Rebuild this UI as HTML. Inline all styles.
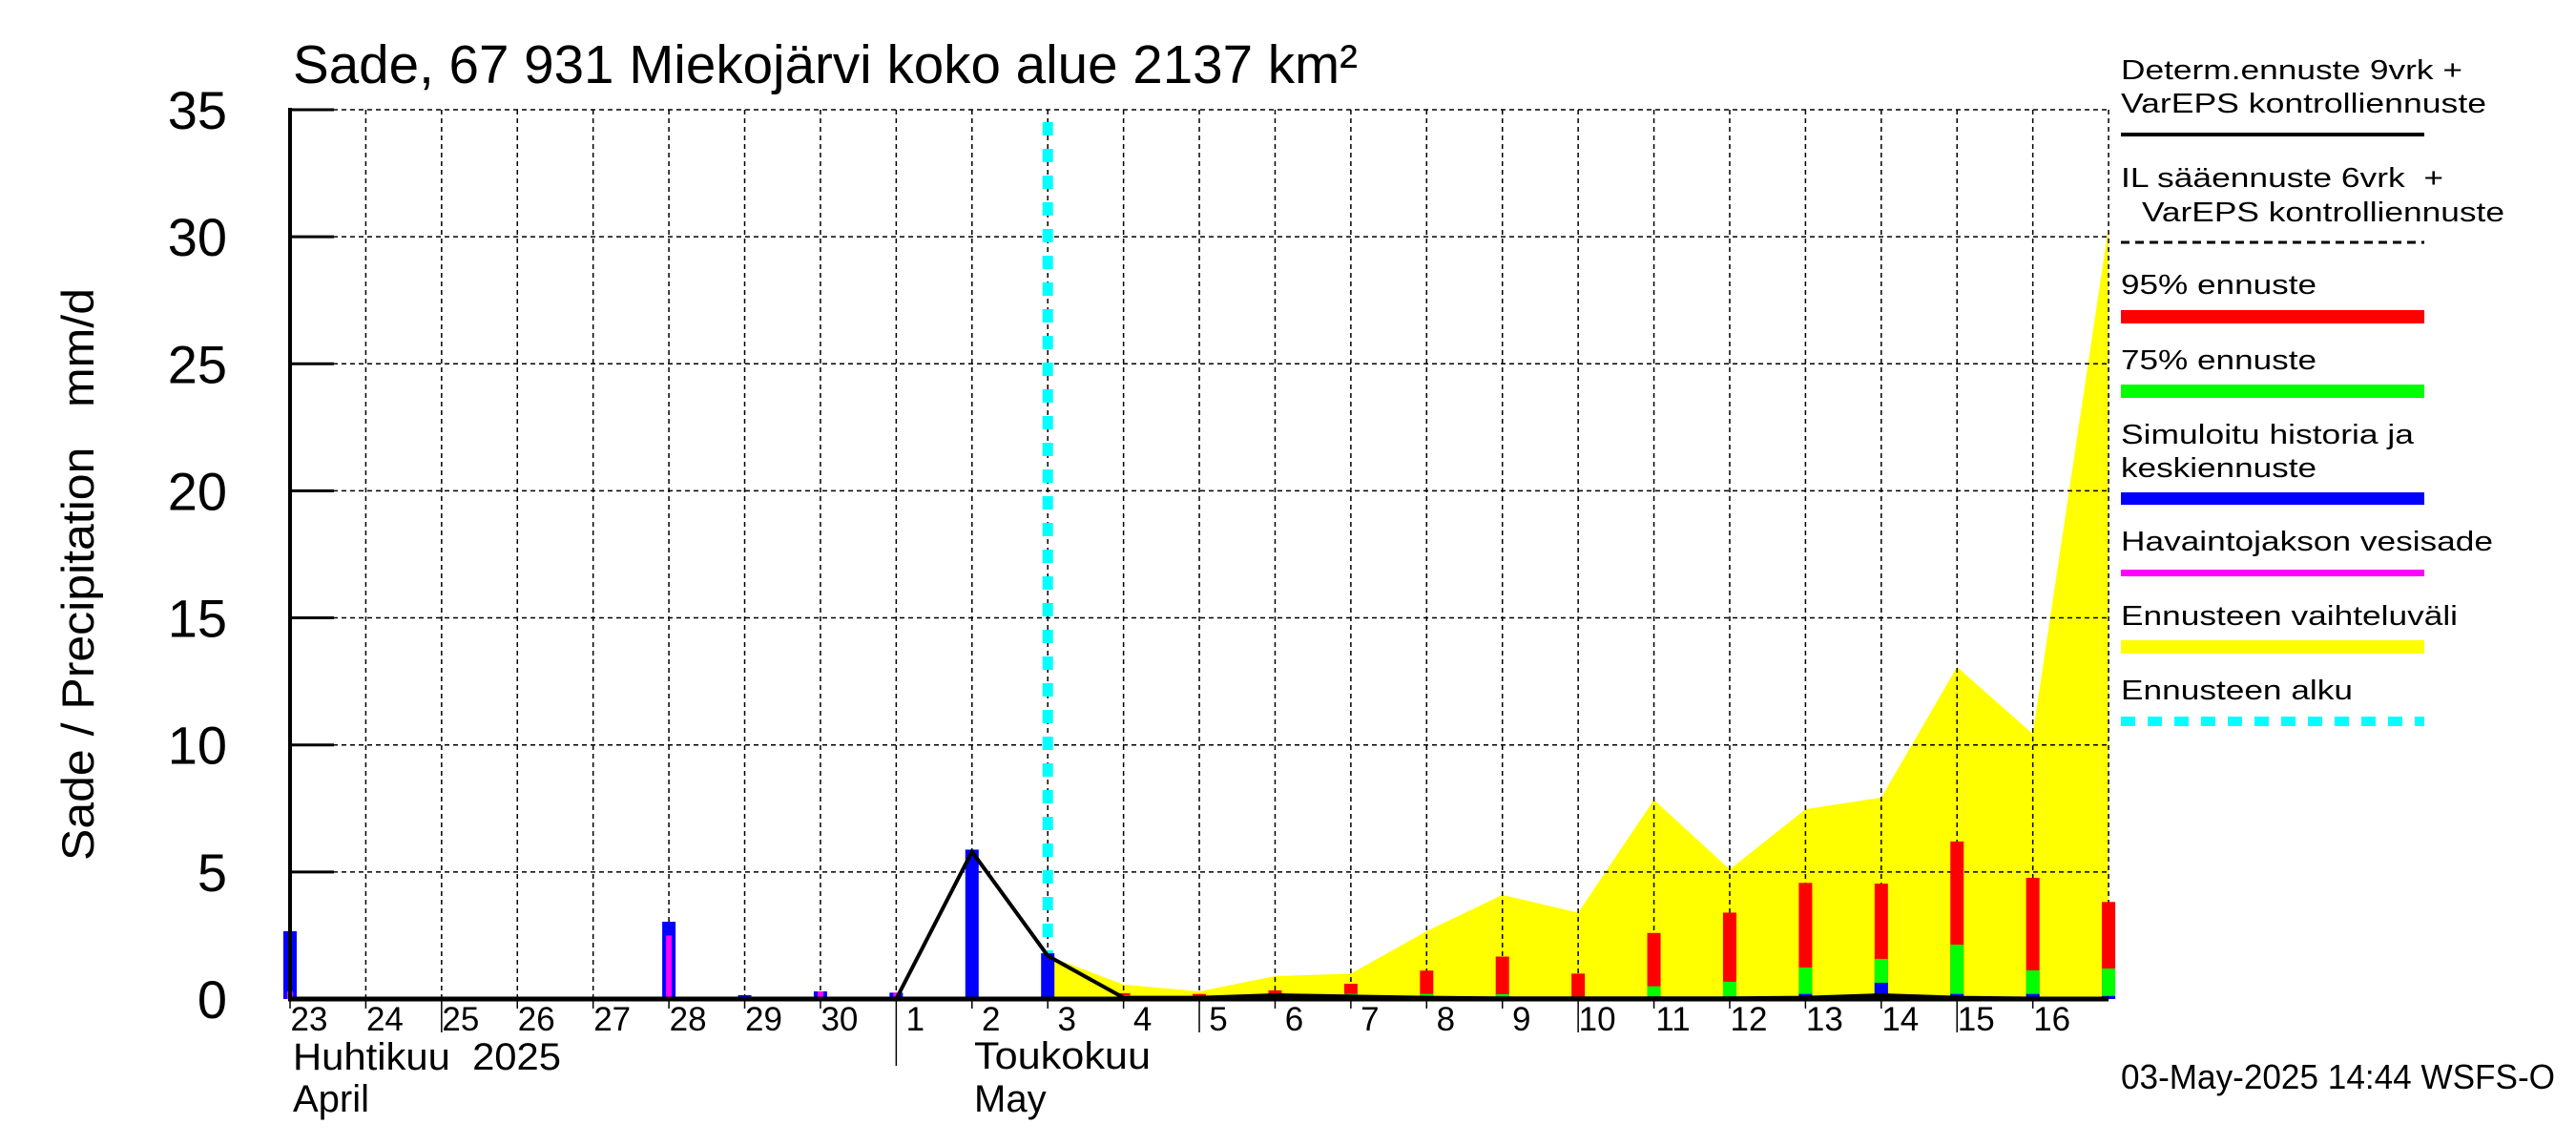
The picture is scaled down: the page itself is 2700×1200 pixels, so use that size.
<!DOCTYPE html>
<html><head><meta charset="utf-8"><title>Sade Miekojärvi</title>
<style>html,body{margin:0;padding:0;background:#fff}svg{display:block}text{font-family:"Liberation Sans",Arial,sans-serif;fill:#000;white-space:pre}</style>
</head><body>
<svg id="chart" width="2700" height="1200" viewBox="0 0 2700 1200" xmlns="http://www.w3.org/2000/svg" xml:space="preserve">
<rect x="0" y="0" width="2700" height="1200" fill="#fff"/>
<g id="yellow-layer"></g><g id="grid-layer"></g><g id="bar-layer"></g><g id="line-layer"></g><g id="axis-layer"></g>
<text x="307" y="87" font-size="57" textLength="1116" lengthAdjust="spacingAndGlyphs">Sade, 67 931 Miekojärvi koko alue 2137 km²</text>
<text transform="translate(98,902) rotate(-90)" font-size="47" textLength="600" lengthAdjust="spacingAndGlyphs">Sade / Precipitation   mm/d</text>
<text x="307" y="1121" font-size="40" textLength="281" lengthAdjust="spacingAndGlyphs">Huhtikuu  2025</text>
<text x="307" y="1165" font-size="40">April</text>
<text x="1021" y="1120" font-size="40" textLength="185" lengthAdjust="spacingAndGlyphs">Toukokuu</text>
<text x="1021" y="1165" font-size="40">May</text>
<text x="2223" y="1141" font-size="36" textLength="455" lengthAdjust="spacingAndGlyphs">03-May-2025 14:44 WSFS-O</text>
<g>
<text x="2223" y="83" font-size="29" textLength="358" lengthAdjust="spacingAndGlyphs">Determ.ennuste 9vrk +</text>
<text x="2223" y="118" font-size="29" textLength="383" lengthAdjust="spacingAndGlyphs">VarEPS kontrolliennuste</text>
<rect x="2223" y="139" width="318" height="4" fill="#000"/>
<text x="2223" y="196" font-size="29" textLength="338" lengthAdjust="spacingAndGlyphs">IL sääennuste 6vrk  +</text>
<text x="2245" y="232" font-size="29" textLength="380" lengthAdjust="spacingAndGlyphs">VarEPS kontrolliennuste</text>
<line x1="2223" y1="254" x2="2541" y2="254" stroke="#000" stroke-width="3" stroke-dasharray="9,6"/>
<text x="2223" y="308" font-size="29" textLength="205" lengthAdjust="spacingAndGlyphs">95% ennuste</text>
<rect x="2223" y="325" width="318" height="14" fill="#ff0000"/>
<text x="2223" y="387" font-size="29" textLength="205" lengthAdjust="spacingAndGlyphs">75% ennuste</text>
<rect x="2223" y="403" width="318" height="14" fill="#00ff00"/>
<text x="2223" y="465" font-size="29" textLength="307" lengthAdjust="spacingAndGlyphs">Simuloitu historia ja</text>
<text x="2223" y="500" font-size="29" textLength="205" lengthAdjust="spacingAndGlyphs">keskiennuste</text>
<rect x="2223" y="516" width="318" height="13" fill="#0000ff"/>
<text x="2223" y="577" font-size="29" textLength="390" lengthAdjust="spacingAndGlyphs">Havaintojakson vesisade</text>
<rect x="2223" y="597" width="318" height="7" fill="#ff00ff"/>
<text x="2223" y="655" font-size="29" textLength="353" lengthAdjust="spacingAndGlyphs">Ennusteen vaihteluväli</text>
<rect x="2223" y="671" width="318" height="14" fill="#ffff00"/>
<text x="2223" y="733" font-size="29" textLength="243" lengthAdjust="spacingAndGlyphs">Ennusteen alku</text>
<line x1="2223" y1="756" x2="2541" y2="756" stroke="#00ffff" stroke-width="10" stroke-dasharray="15,13"/>
</g>
</svg>
<script>
const dayLabels = ["23","24","25","26","27","28","29","30","1","2","3","4","5","6","7","8","9","10","11","12","13","14","15","16"];
const yTicks = [0,5,10,15,20,25,30,35];
// index 0 = 23 Apr ... 23 = 16 May, 24 = 17 May
const simBlue = [2.67,0,0.05,0,0.05,3.04,0.15,0.3,0.25,5.88,1.8,0.1,0.03,0.17,0.1,0.1,0.05,0.03,0.1,0.1,0.2,0.64,0.2,0.2,0.12];
const obsMagenta = [0.3,0,0,0,0.05,2.5,0,0.3,0.25,0,0,0,0,0,0,0,0,0,0,0,0,0,0,0,0];
const p95 = [0,0,0,0,0,0,0,0,0,0,0,0.23,0.2,0.34,0.6,1.12,1.67,1.0,2.6,3.4,4.57,4.54,6.2,4.77,3.82];
const p75 = [0,0,0,0,0,0,0,0,0,0,0,0.15,0.08,0.2,0.2,0.2,0.19,0.08,0.5,0.68,1.24,1.58,2.14,1.13,1.2];
const determLine = [null,null,null,null,null,null,null,null,0,5.8,1.7,0.05,0.05,0.15,0.1,0.05,0.03,0.03,0.03,0.03,0.05,0.15,0.05,0.02,0.02];
const rangeUpper = [null,null,null,null,null,null,null,null,null,null,1.7,0.57,0.3,0.9,1.0,2.67,4.1,3.4,7.84,5.1,7.47,7.93,13.07,10.43,30.4];

const NS="http://www.w3.org/2000/svg";
const X0=304, DAYW=79.42, Y0=1047, PXMM=26.63, NDAYS=24;
function xs(i){return X0+DAYW*i;}
function ys(v){return Y0-v*PXMM;}
function mk(tag,attrs,parent){const e=document.createElementNS(NS,tag);for(const k in attrs)e.setAttribute(k,attrs[k]);parent.appendChild(e);return e;}
const yl=document.getElementById('yellow-layer'),gl=document.getElementById('grid-layer'),bl=document.getElementById('bar-layer'),ll=document.getElementById('line-layer'),al=document.getElementById('axis-layer');

(function(){
  let pts=[];let first=-1,last=-1;
  for(let i=0;i<rangeUpper.length;i++){if(rangeUpper[i]!==null){if(first<0)first=i;last=i;pts.push(xs(i)+','+ys(rangeUpper[i]));}}
  pts.push(xs(last)+','+Y0);pts.push(xs(first)+','+Y0);
  const p=mk('polygon',{points:pts.join(' '),fill:'#ffff00'},yl);
  
  
})();

for(let i=1;i<=NDAYS;i++){
  const l=mk('line',{x1:xs(i),y1:115,x2:xs(i),y2:Y0,stroke:'#000','stroke-width':1.5,'stroke-dasharray':'5,4'},gl);
  
  
}
yTicks.forEach(v=>{if(v===0)return;
  const l=mk('line',{x1:X0,y1:ys(v),x2:xs(NDAYS),y2:ys(v),stroke:'#000','stroke-width':1.5,'stroke-dasharray':'5,4'},gl);
  
  
});

(function(){
  const l=mk('line',{x1:xs(10),y1:128,x2:xs(10),y2:Y0,stroke:'#00ffff','stroke-width':11,'stroke-dasharray':'14,14'},gl);
  
  
})();

function bar(i,v,w,color,name){
  if(!v)return;
  const r=mk('rect',{x:xs(i)-w/2,y:ys(v),width:w,height:v*PXMM,fill:color},bl);
  
  
}
for(let i=0;i<p95.length;i++){
  bar(i,p95[i],14,'#ff0000','bar-95-percent');
  bar(i,p75[i],14,'#00ff00','bar-75-percent');
}
for(let i=0;i<simBlue.length;i++) bar(i,simBlue[i],14,'#0000ff','bar-simulated');
for(let i=0;i<obsMagenta.length;i++) bar(i,obsMagenta[i],6,'#ff00ff','bar-observed');

(function(){
  const pts=[];
  determLine.forEach((v,i)=>{if(v!==null)pts.push(xs(i)+','+ys(v));});
  const p=mk('polyline',{points:pts.join(' '),fill:'none',stroke:'#000','stroke-width':4,'stroke-linejoin':'miter'},ll);
  
  
})();

(function(){
  const ya=mk('line',{x1:X0,y1:113,x2:X0,y2:Y0+2,stroke:'#000','stroke-width':4},al);
  
  
  const xa=mk('line',{x1:X0-2,y1:Y0,x2:xs(NDAYS),y2:Y0,stroke:'#000','stroke-width':5},al);
  
  
  yTicks.forEach(v=>{
    const t=mk('line',{x1:X0,y1:ys(v),x2:X0+46,y2:ys(v),stroke:'#000','stroke-width':3},al);
    
    
    const tx=mk('text',{x:238,y:ys(v)+20,'font-size':56,'text-anchor':'end'},al);
    
    
    tx.textContent=String(v);
  });
  dayLabels.forEach((lab,i)=>{
    let y2=1057;
    if(i===8)y2=1117;else if(i===2||i===12||i===17||i===22)y2=1082;
    const t=mk('line',{x1:xs(i),y1:Y0,x2:xs(i),y2:y2,stroke:'#000','stroke-width':1.5},al);
    
    
    const tx=mk('text',{x:xs(i)+20,y:1080,'font-size':35,'text-anchor':'middle'},al);
    
    
    tx.textContent=lab;
  });
})();
</script>
</body></html>
